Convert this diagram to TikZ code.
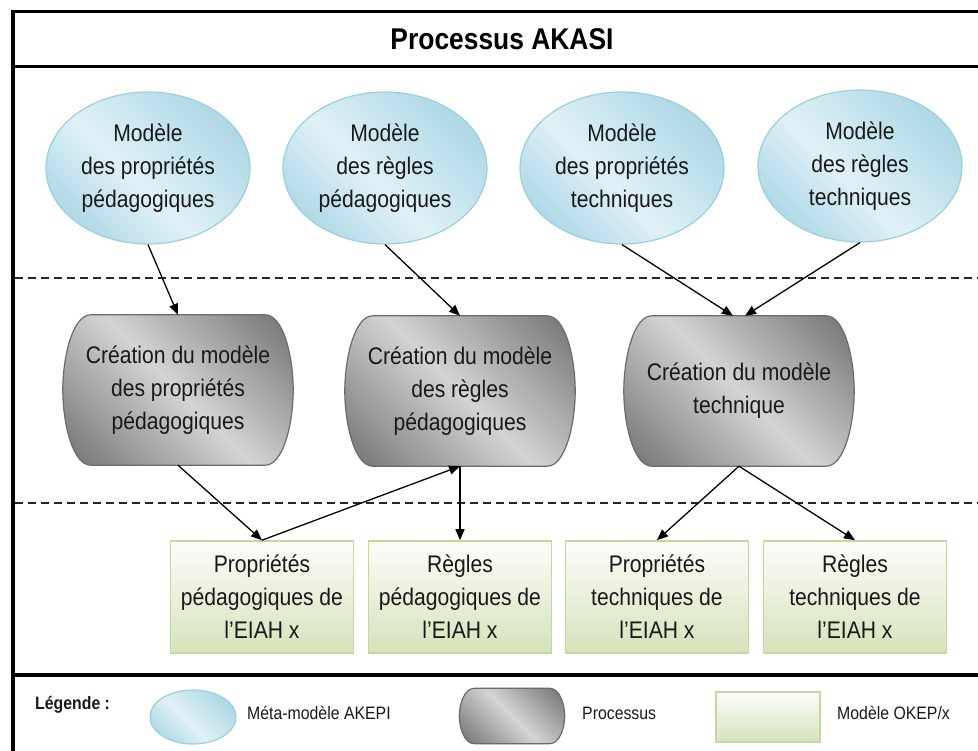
\documentclass[tikz,border=0pt]{standalone}
\usepackage{fontspec}
\setmainfont{Liberation Sans}[FakeStretch=0.88]
\usepackage{xcolor}
\usepackage{tikz}
\usetikzlibrary{shapes.geometric,arrows.meta,calc}

\pgfdeclarelayer{background}
\pgfsetlayers{background,main}

\definecolor{ellLight}{HTML}{E0F1F6}
\definecolor{ellDark}{HTML}{A5D4E2}
\definecolor{ellEdge}{HTML}{9ACFDF}
\definecolor{procLight}{HTML}{D4D4D4}
\definecolor{procDark}{HTML}{6E6E6E}
\definecolor{procEdge}{HTML}{6B6B6B}
\definecolor{boxTop}{HTML}{FCFDF9}
\definecolor{boxBottom}{HTML}{D5E3BB}
\definecolor{boxEdge}{HTML}{C4D8A0}

\pgfdeclarehorizontalshading{ellshade}{100bp}{color(0bp)=(ellDark); color(20bp)=(ellDark); color(45bp)=(ellLight); color(80bp)=(ellDark); color(100bp)=(ellDark)}
\pgfdeclarehorizontalshading{procshade}{100bp}{color(0bp)=(procDark); color(14bp)=(procDark); color(50bp)=(procLight); color(86bp)=(procDark); color(100bp)=(procDark)}

\tikzset{
  txt/.style={align=center, font=\fontsize{24}{33}\selectfont, text=black!90},
  meta/.style={ellipse, txt, draw=ellEdge, line width=1.2pt, shading=ellshade, shading angle=45,
    minimum width=204pt, minimum height=152pt, inner sep=0pt},
  proc/.style={rectangle, txt, minimum width=230pt, minimum height=150pt, inner sep=0pt},
  okep/.style={rectangle, txt, draw=boxEdge, line width=1.6pt, top color=boxTop, bottom color=boxBottom,
    minimum width=183pt, minimum height=112pt, inner sep=0pt},
  procbody/.style={draw=procEdge, line width=1.2pt, shading=procshade, shading angle=45},
  arr/.style={-{Triangle[length=11pt,width=9pt]}, line width=1.3pt},
  sep/.style={dash pattern=on 8pt off 5pt, line width=1.5pt, black!85},
  frame/.style={line width=3.5pt, black},
  leg/.style={font=\fontsize{18}{22}\selectfont, anchor=west, inner sep=0pt, text=black!90}
}

% outline of a process node: #1 node name, #2 depth of the curved sides
\newcommand{\procoutline}[2]{%
  \path[procbody] let \p1=(#1.north west), \p2=(#1.south east) in
    ({\x1+#2},\y1) -- ({\x2-#2},\y1)
    .. controls ({\x2-0.35*#2},\y1) and (\x2,{\y1-0.28*(\y1-\y2)}) .. (\x2,{0.5*(\y1+\y2)})
    .. controls (\x2,{\y2+0.28*(\y1-\y2)}) and ({\x2-0.35*#2},\y2) .. ({\x2-#2},\y2)
    -- ({\x1+#2},\y2)
    .. controls ({\x1+0.35*#2},\y2) and (\x1,{\y2+0.28*(\y1-\y2)}) .. (\x1,{0.5*(\y1+\y2)})
    .. controls (\x1,{\y1-0.28*(\y1-\y2)}) and ({\x1+0.35*#2},\y1) .. cycle;}

\begin{document}
\begin{tikzpicture}[x=1pt,y=-1pt]
    \useasboundingbox (0,0) rectangle (978,751);

    % frame
    \draw[frame] (13,751) -- (13,11.5) -- (978,11.5);
    \draw[frame] (13,66.5) -- (978,66.5);
    \draw[frame] (13,675) -- (978,675);
    \node[font=\fontsize{30}{30}\bfseries] (title) at (502,39) {Processus AKASI};

    \draw[sep] (15,278) -- (978,278);
    \draw[sep] (15,503) -- (978,503);

    % meta-models
    \node[meta] (e1) at (148,168) {Modèle\\des propriétés\\pédagogiques};
    \node[meta] (e2) at (385,168) {Modèle\\des règles\\pédagogiques};
    \node[meta] (e3) at (622,168) {Modèle\\des propriétés\\techniques};
    \node[meta] (e4) at (860,166) {Modèle\\des règles\\techniques};

    % processes
    \node[proc] (c1) at (178,390) {Création du modèle\\des propriétés\\pédagogiques};
    \node[proc] (c2) at (460,391) {Création du modèle\\des règles\\pédagogiques};
    \node[proc] (c3) at (739,391) {Création du modèle\\technique};

    % OKEP models
    \node[okep] (g1) at (262,597) {Propriétés\\pédagogiques de\\l’EIAH x};
    \node[okep] (g2) at (460,597) {Règles\\pédagogiques de\\l’EIAH x};
    \node[okep] (g3) at (657,597) {Propriétés\\techniques de\\l’EIAH x};
    \node[okep] (g4) at (855,597) {Règles\\techniques de\\l’EIAH x};

    % legend
    \node[leg, font=\fontsize{18}{22}\bfseries] (legtitle) at (35,705) {Légende :};
    \node[meta, minimum width=86pt, minimum height=54pt] (lmeta) at (193,717) {};
    \node[leg] (lmetatxt) at (247,713) {Méta-modèle AKEPI};
    \node[proc, minimum width=105pt, minimum height=55pt] (lproc) at (512,716) {};
    \node[leg] (lproctxt) at (582,713) {Processus};
    \node[okep, minimum width=104pt, minimum height=50pt] (lokep) at (768,717) {};
    \node[leg] (lokeptxt) at (837,713) {Modèle OKEP/x};

    \begin{pgfonlayer}{background}
        \procoutline{c1}{28pt}
        \procoutline{c2}{28pt}
        \procoutline{c3}{28pt}
        \procoutline{lproc}{15pt}
    \end{pgfonlayer}

    % connectors
    \draw[arr] (e1.south) -- (c1.north);
    \draw[arr] (e2.south) -- (c2.north);
    \draw[arr] (e3.south) -- ([xshift=-6pt]c3.north);
    \draw[arr] (e4.south) -- ([xshift=6pt]c3.north);
    \draw[arr] (c1.south) -- (g1.north);
    \draw[arr] (g1.north) -- (c2.south);
    \draw[arr] (c2.south) -- (g2.north);
    \draw[arr] (c3.south) -- (g3.north);
    \draw[arr] (c3.south) -- (g4.north);
\end{tikzpicture}
\end{document}
